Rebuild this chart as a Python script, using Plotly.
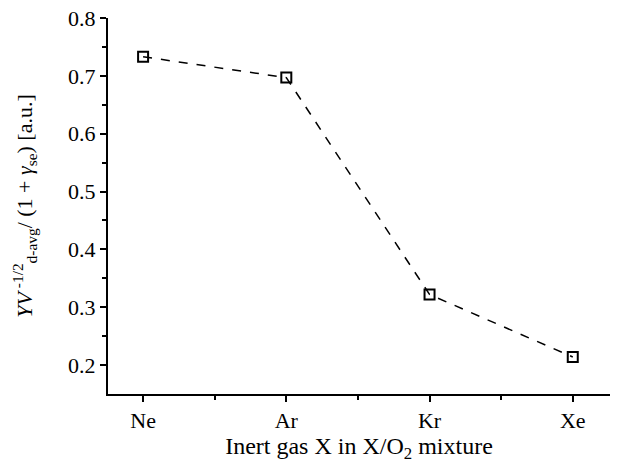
import plotly.graph_objects as go

gases = ["Ne", "Ar", "Kr", "Xe"]
values = [0.733, 0.697, 0.322, 0.214]
y_ticks = [0.2, 0.3, 0.4, 0.5, 0.6, 0.7, 0.8]

font = "Liberation Serif, Times New Roman, serif"

fig = go.Figure()
fig.add_trace(go.Scatter(
    x=list(range(len(gases))), y=values, mode="lines+markers",
    line=dict(color="black", width=1.5, dash="dash"),
    marker=dict(symbol="square-open", size=10, color="black", line=dict(width=2)),
    showlegend=False,
))

fig.update_layout(
    width=622, height=468,
    margin=dict(l=100, r=20, t=10, b=82, autoexpand=False),
    plot_bgcolor="white", paper_bgcolor="white",
    font=dict(family=font, size=22, color="black"),
    xaxis=dict(
        range=[-0.245, 3.26], automargin=False,
        tickmode="array", tickvals=list(range(len(gases))), ticktext=gases,
        tickfont=dict(size=22), ticklabeloverflow="allow",
        showline=True, linecolor="black", linewidth=2,
        ticks="outside", ticklen=6, tickwidth=1.5, tickcolor="black",
        minor=dict(tickmode="array", tickvals=[0.5, 1.5, 2.5], ticks="outside", ticklen=4, tickwidth=1.5, tickcolor="black"),
        showgrid=False, zeroline=False,
        title=dict(text="Inert gas X in X/O<sub>2</sub> mixture", font=dict(size=24), standoff=2),
    ),
    yaxis=dict(
        range=[0.15, 0.8], automargin=False,
        tickmode="array", tickvals=y_ticks, ticktext=[f"{v:.1f}" for v in y_ticks],
        tickfont=dict(size=22), ticklabeloverflow="allow",
        showline=True, linecolor="black", linewidth=2,
        ticks="outside", ticklen=6, tickwidth=1.5, tickcolor="black",
        minor=dict(tickmode="array", tickvals=[0.25, 0.35, 0.45, 0.55, 0.65, 0.75], ticks="outside", ticklen=4, tickwidth=1.5, tickcolor="black"),
        showgrid=False, zeroline=False,
        title=dict(text="<i>YV</i><sup> -1/2</sup><sub>d-avg</sub>/ (1 + <i>γ</i><sub>se</sub>) [a.u.]", font=dict(size=22), standoff=29),
    ),
)

fig.write_html("out.html")
